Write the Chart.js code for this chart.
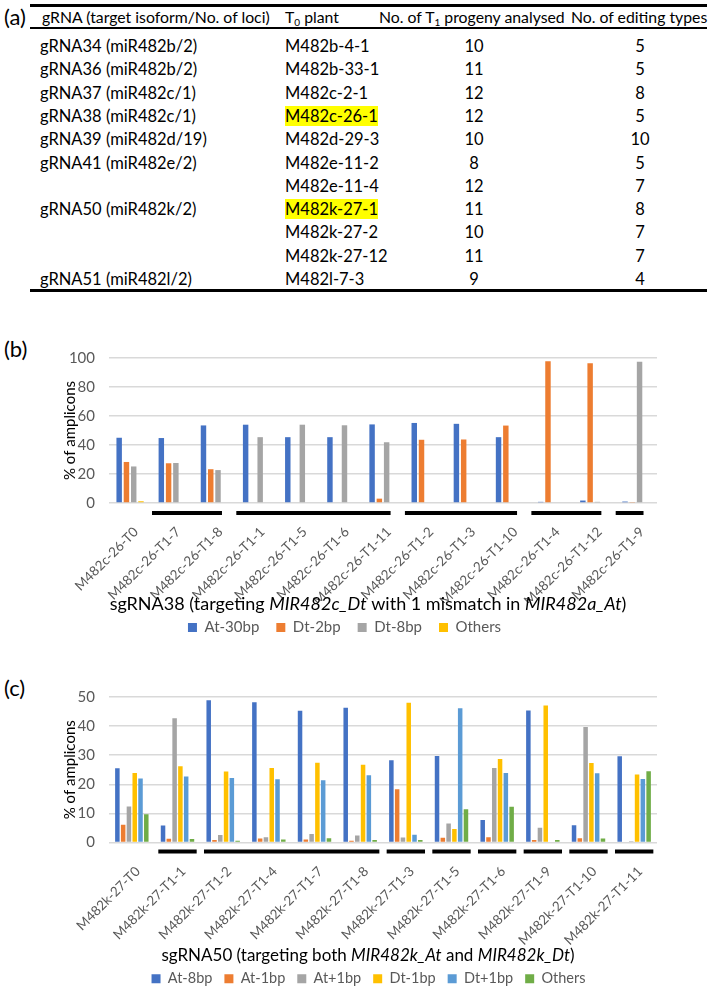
<!DOCTYPE html>
<html lang="en">
<head>
<meta charset="utf-8">
<title>MIR482 editing in T1 progeny</title>
<style>
  html, body { margin: 0; padding: 0; background: #fff; overflow: hidden; }
  body { width: 709px; height: 991px; position: relative; font-family: Lato, "Open Sans", sans-serif; color: #000; }
  .panel { position: absolute; font-size: 22px; left: 4px; }
  .rule { position: absolute; left: 30px; width: 677px; background: #000; }
  .cell { position: absolute; font-size: 16.5px; line-height: 20px; white-space: nowrap; transform: translateY(-50%); }
  .head { font-size: 15.8px; }
  .mid { text-align: center; width: 60px; margin-left: -30px; }
  .hl { background: #ffff00; }
  sub { font-size: 10px; vertical-align: -3px; line-height: 0; }
  canvas { position: absolute; left: 0; }
</style>
</head>
<body>
  <div class="panel" style="top:3px">(a)</div>
  <div class="rule" style="top:4px;height:3px"></div>
  <div class="rule" style="top:27px;height:2px"></div>
  <div class="rule" style="top:289px;height:3px"></div>
  <div id="table"></div>

  <div class="panel" style="top:335px">(b)</div>
  <canvas id="chartB" width="709" height="310" style="top:335px"></canvas>

  <div class="panel" style="top:674px">(c)</div>
  <canvas id="chartC" width="709" height="322" style="top:674px"></canvas>

<script src="https://cdn.jsdelivr.net/npm/chart.js@4/dist/chart.umd.min.js"></script>
<script>
// ---- table (a) ----
const gRNAs = ['gRNA34 (miR482b/2)', 'gRNA36 (miR482b/2)', 'gRNA37 (miR482c/1)', 'gRNA38 (miR482c/1)',
  'gRNA39 (miR482d/19)', 'gRNA41 (miR482e/2)', '', 'gRNA50 (miR482k/2)', '', '', 'gRNA51 (miR482l/2)'];
const plants = ['M482b-4-1', 'M482b-33-1', 'M482c-2-1', 'M482c-26-1', 'M482d-29-3', 'M482e-11-2',
  'M482e-11-4', 'M482k-27-1', 'M482k-27-2', 'M482k-27-12', 'M482l-7-3'];
const progeny = [10, 11, 12, 12, 10, 8, 12, 11, 10, 11, 9];
const editTypes = [5, 5, 8, 5, 10, 5, 7, 8, 7, 7, 4];
const highlighted = ['M482c-26-1', 'M482k-27-1'];

// ---- chart (b) ----
const catsB = ['M482c-26-T0', 'M482c-26-T1-7', 'M482c-26-T1-8', 'M482c-26-T1-1', 'M482c-26-T1-5',
  'M482c-26-T1-6', 'M482c-26-T1-11', 'M482c-26-T1-2', 'M482c-26-T1-3', 'M482c-26-T1-10',
  'M482c-26-T1-4', 'M482c-26-T1-12', 'M482c-26-T1-9'];
const at30 = [45.0, 44.8, 53.5, 54.0, 45.4, 45.4, 54.2, 55.2, 54.6, 45.4, 0.8, 1.7, 1.0];
const dt2 = [28.3, 27.4, 23.3, 0, 0, 0, 3.0, 43.6, 43.8, 53.4, 97.8, 96.3, 0.7];
const dt8 = [25.2, 27.6, 22.7, 45.4, 54.0, 53.6, 41.9, 0, 0, 0.5, 0, 0.8, 97.4];
const othersB = [1.2, 0, 0, 0, 0, 0, 0, 0, 0, 0, 0, 0, 0];
const groupsB = [[1, 2], [3, 6], [7, 9], [10, 11], [12, 12]];

// ---- chart (c) ----
const catsC = ['M482k-27-T0', 'M482k-27-T1-1', 'M482k-27-T1-2', 'M482k-27-T1-4', 'M482k-27-T1-7',
  'M482k-27-T1-8', 'M482k-27-T1-3', 'M482k-27-T1-5', 'M482k-27-T1-6', 'M482k-27-T1-9',
  'M482k-27-T1-10', 'M482k-27-T1-11'];
const at8 = [25.5, 5.8, 48.9, 48.2, 45.3, 46.3, 28.3, 29.7, 7.7, 45.4, 5.9, 29.6];
const at1m = [6.1, 1.3, 0.9, 1.4, 1.0, 0.6, 18.3, 1.6, 1.8, 0.9, 1.5, 0];
const at1p = [12.4, 42.7, 2.6, 1.8, 2.9, 2.4, 1.7, 6.5, 25.6, 5.1, 39.7, 0.4];
const dt1m = [23.9, 26.2, 24.4, 25.6, 27.4, 26.7, 48.0, 4.6, 28.7, 47.1, 27.3, 23.4];
const dt1p = [22.0, 22.7, 22.2, 21.7, 21.4, 23.1, 2.7, 46.1, 23.9, 0, 23.8, 21.8];
const othersC = [9.7, 1.2, 0.6, 1.0, 1.5, 0.9, 0.9, 11.4, 12.3, 0.9, 1.4, 24.5];
const groupsC = [[1, 1], [2, 5], [6, 6], [7, 7], [8, 8], [9, 9], [10, 10], [11, 11]];

// build table
const table = document.getElementById('table');
function cell(html, x, y, cls) {
  const d = document.createElement('div');
  d.className = 'cell' + (cls ? ' ' + cls : '');
  d.style.left = x + 'px';
  d.style.top = y + 'px';
  d.innerHTML = html;
  table.appendChild(d);
}
cell('gRNA (target isoform/No. of loci)', 42, 17, 'head');
cell('T<sub>0</sub> plant', 285, 17, 'head');
cell('No. of T<sub>1</sub> progeny analysed', 379, 17, 'head');
cell('No. of editing types', 571, 17, 'head');
plants.forEach((p, i) => {
  const y = 46 + i * 23.3;
  cell(gRNAs[i], 40, y);
  cell(highlighted.includes(p) ? '<span class="hl">' + p + '</span>' : p, 285, y);
  cell(progeny[i], 474, y, 'mid');
  cell(editTypes[i], 640, y, 'mid');
});

// ---- chart helpers ----
const COLORS = ['#4472C4', '#ED7D31', '#A5A5A5', '#FFC000', '#5B9BD5', '#70AD47'];
const FONT = 'Lato, "Open Sans", sans-serif';

const decorPlugin = {
  id: 'decor',
  afterLayout(chart, args, opts) {
    // nudge the legend sideways
    chart.legend.left += opts.legendShift;
    chart.legend.right += opts.legendShift;
  },
  afterDraw(chart, args, opts) {
    const ctx = chart.ctx;
    const x = chart.scales.x;
    const w = x.getPixelForValue(1) - x.getPixelForValue(0);
    const area = chart.chartArea;
    ctx.save();
    // sibling group bars under the axis
    ctx.fillStyle = '#000';
    opts.groups.forEach(([a, b]) => {
      const x1 = x.getPixelForValue(a) - w / 2 + opts.padL * w;
      const x2 = x.getPixelForValue(b) + w / 2 - opts.padR * w;
      ctx.fillRect(x1, area.bottom + opts.lineY - 2, x2 - x1, 4);
    });
    // axis title with italic parts
    const size = opts.titleSize;
    const parts = opts.title;
    let total = 0;
    parts.forEach(p => {
      ctx.font = (p[1] ? 'italic ' : '') + size + 'px ' + FONT;
      total += ctx.measureText(p[0]).width;
    });
    let cx = opts.titleX - total / 2;
    ctx.fillStyle = '#000';
    ctx.textBaseline = 'middle';
    ctx.textAlign = 'left';
    parts.forEach(p => {
      ctx.font = (p[1] ? 'italic ' : '') + size + 'px ' + FONT;
      ctx.fillText(p[0], cx, area.bottom + opts.titleY);
      cx += ctx.measureText(p[0]).width;
    });
    ctx.restore();
  }
};

function makeChart(id, cats, sets, yMax, yStep, xHeight, legend, catPct, barPct, decor) {
  return new Chart(document.getElementById(id), {
    type: 'bar',
    data: {
      labels: cats,
      datasets: sets.map((s, i) => ({
        label: s[0],
        data: s[1],
        backgroundColor: COLORS[i],
        categoryPercentage: catPct,
        barPercentage: barPct
      }))
    },
    options: {
      responsive: false,
      animation: false,
      layout: { padding: { top: 14, right: 52, left: 0, bottom: 0 } },
      plugins: {
        tooltip: { enabled: false },
        legend: {
          position: 'bottom',
          labels: { boxWidth: 9, boxHeight: 9, padding: legend.pad, color: '#595959', font: { family: FONT, size: legend.size } }
        },
        decor: decor
      },
      scales: {
        x: {
          grid: { display: false },
          border: { display: false },
          ticks: { autoSkip: false, minRotation: 45, maxRotation: 45, padding: 13, labelOffset: 6, color: '#595959', font: { family: FONT, size: 13.5 } },
          afterFit: s => { s.height = xHeight; }
        },
        y: {
          min: 0,
          max: yMax,
          ticks: { stepSize: yStep, padding: 14, color: '#595959', font: { family: FONT, size: 15 } },
          grid: { color: '#D9D9D9', lineWidth: 1.5, drawTicks: false },
          border: { display: false },
          title: { display: true, text: '% of amplicons', color: '#000', font: { family: FONT, size: 15 }, padding: { top: 61, bottom: 0 } },
          afterFit: s => { s.width = 109; }
        }
      }
    },
    plugins: [decorPlugin]
  });
}

makeChart('chartB', catsB,
  [['At-30bp', at30], ['Dt-2bp', dt2], ['Dt-8bp', dt8], ['Others', othersB]],
  100, 20, 100, { pad: 17, size: 15 }, 0.69, 0.75,
  { groups: groupsB, padL: 0.02, padR: 0.32, lineY: 10, titleY: 101, titleX: 368, titleSize: 18, legendShift: 16,
    title: [['sgRNA38 (targeting ', false], ['MIR482c_Dt', true], [' with 1 mismatch in ', false], ['MIR482a_At', true], [')', false]] });

makeChart('chartC', catsC,
  [['At-8bp', at8], ['At-1bp', at1m], ['At+1bp', at1p], ['Dt-1bp', dt1m], ['Dt+1bp', dt1p], ['Others', othersC]],
  50, 10, 117, { pad: 12, size: 14.5 }, 0.76, 0.78,
  { groups: groupsC, padL: 0.08, padR: 0.08, lineY: 9, titleY: 113, titleX: 368, titleSize: 17, legendShift: 40,
    title: [['sgRNA50 (targeting both ', false], ['MIR482k_At', true], [' and ', false], ['MIR482k_Dt', true], [')', false]] });
</script>
</body>
</html>
